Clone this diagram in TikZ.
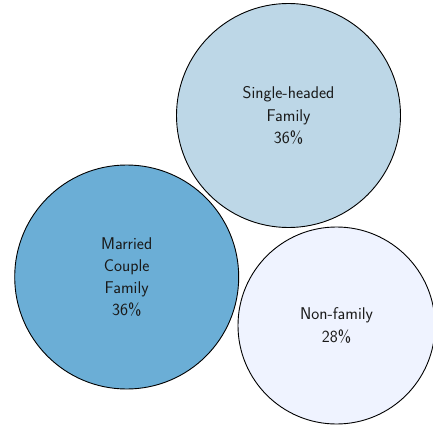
\documentclass[tikz,border=0pt]{standalone}
\usepackage{fontspec}
\tikzset{
  bubble/.style={circle, draw=black, line width=0.9pt, inner sep=0pt},
  lbl/.style={align=center, font=\sffamily\fontsize{17}{22.2}\selectfont, text=black!90}
}
\definecolor{cA}{HTML}{BDD7E7}
\definecolor{cB}{HTML}{6BAED6}
\definecolor{cC}{HTML}{EFF3FF}
\begin{document}
\begin{tikzpicture}[x=1pt,y=-1pt]
\useasboundingbox (0,0) rectangle (433,425);
\node[bubble, fill=cA, minimum size=224pt] (single) at (288.5,115.5) {};
\node[bubble, fill=cB, minimum size=224pt] (married) at (126.7,277) {};
\node[bubble, fill=cC, minimum size=197pt] (nonfam) at (336.5,325.5) {};
\node[lbl] (tsingle) at (single.center) {Single-headed\\Family\\36\%};
\node[lbl] (tmarried) at (married.center) {Married\\Couple\\Family\\36\%};
\node[lbl] (tnonfam) at (nonfam.center) {Non-family\\28\%};
\end{tikzpicture}
\end{document}
